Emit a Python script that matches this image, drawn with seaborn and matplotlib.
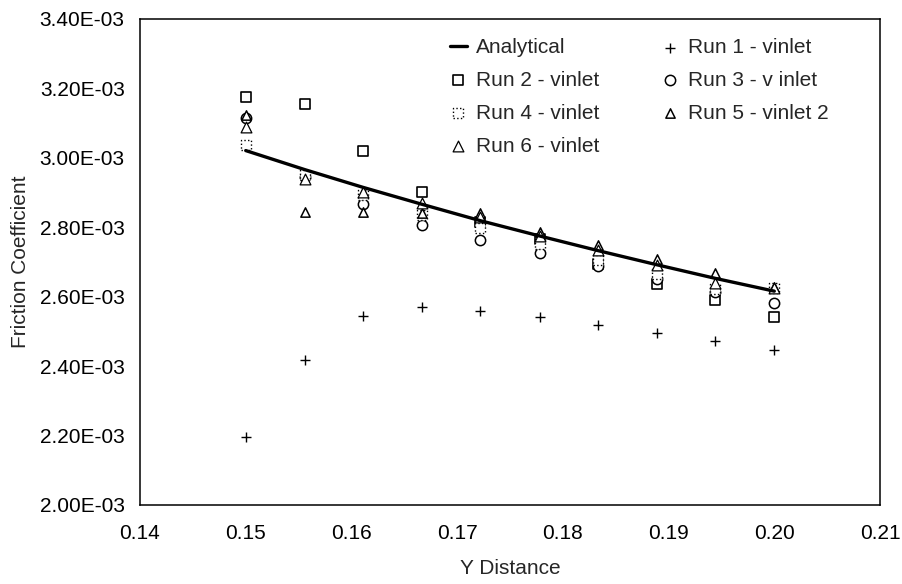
import matplotlib
matplotlib.use("Agg")
import matplotlib.pyplot as plt
import matplotlib.ticker as mticker
import numpy as np
import pandas as pd
import seaborn as sns

# Streamwise stations (Y distance)
y_dist = [0.15, 0.1556, 0.1611, 0.1667, 0.1722, 0.1778, 0.1833, 0.1889, 0.1944, 0.20]

# Friction coefficient values, in units of 1e-3
analytical = [3.021, 2.966, 2.915, 2.866, 2.819, 2.775, 2.733, 2.692, 2.653, 2.616]
run1 = [2.197, 2.418, 2.544, 2.571, 2.560, 2.541, 2.519, 2.495, 2.471, 2.447]
run2 = [3.174, 3.155, 3.020, 2.903, 2.815, 2.765, 2.695, 2.636, 2.591, 2.542]
run3 = [3.114, 2.945, 2.867, 2.807, 2.763, 2.725, 2.689, 2.650, 2.614, 2.581]
run4 = [3.037, 2.950, 2.893, 2.835, 2.797, 2.752, 2.705, 2.665, 2.622, 2.625]
run5 = [3.123, 2.845, 2.845, 2.840, 2.840, 2.787, 2.749, 2.708, 2.667, 2.629]
run6 = [3.090, 2.940, 2.903, 2.869, 2.830, 2.775, 2.735, 2.690, 2.640, 2.626]

x_ticks = [0.14, 0.15, 0.16, 0.17, 0.18, 0.19, 0.20, 0.21]
y_ticks = [2.00e-3, 2.20e-3, 2.40e-3, 2.60e-3, 2.80e-3, 3.00e-3, 3.20e-3, 3.40e-3]

labels = {
    "analytical": "Analytical",
    "run1": "Run 1 - vinlet",
    "run2": "Run 2 - vinlet",
    "run3": "Run 3 - v inlet",
    "run4": "Run 4 - vinlet",
    "run5": "Run 5 - vinlet 2",
    "run6": "Run 6 - vinlet",
}


def frame(values):
    return pd.DataFrame({"x": y_dist, "cf": np.array(values) * 1e-3})


sns.set_style("white")
plt.rcParams["font.family"] = ["Liberation Sans", "DejaVu Sans"]
plt.rcParams["font.size"] = 15

fig = plt.figure(figsize=(9.03, 5.84), dpi=100)
ax = fig.add_axes([140 / 903, 79 / 584, 740 / 903, 486 / 584])

sns.lineplot(data=frame(analytical), x="x", y="cf", ax=ax, color="black",
             linewidth=2.4, label=labels["analytical"])
sns.scatterplot(data=frame(run1), x="x", y="cf", ax=ax, marker="+", s=60,
                color="black", linewidth=1.0, label=labels["run1"])
sns.scatterplot(data=frame(run2), x="x", y="cf", ax=ax, marker="s", s=52,
                facecolor="white", edgecolor="black", linewidth=1.2,
                label=labels["run2"])
sns.scatterplot(data=frame(run3), x="x", y="cf", ax=ax, marker="o", s=55,
                facecolor="white", edgecolor="black", linewidth=1.1,
                label=labels["run3"])
sns.scatterplot(data=frame(run4), x="x", y="cf", ax=ax, marker="s", s=52,
                facecolor="white", edgecolor="black", linewidth=1.0,
                linestyle=":", label=labels["run4"])
sns.scatterplot(data=frame(run5), x="x", y="cf", ax=ax, marker="^", s=45,
                facecolor="white", edgecolor="black", linewidth=1.1,
                label=labels["run5"])
sns.scatterplot(data=frame(run6), x="x", y="cf", ax=ax, marker="^", s=60,
                facecolor="white", edgecolor="black", linewidth=0.9,
                label=labels["run6"])

ax.set_xlim(0.14, 0.21)
ax.set_ylim(2.00e-3, 3.40e-3)
ax.set_xticks(x_ticks)
ax.set_yticks(y_ticks)
ax.xaxis.set_major_formatter(mticker.FuncFormatter(lambda v, p: f"{v:.2f}"))
ax.yaxis.set_major_formatter(mticker.FuncFormatter(lambda v, p: f"{v:.2E}"))
ax.tick_params(axis="both", length=0, labelsize=15, colors="black")
ax.tick_params(axis="x", pad=14)
ax.tick_params(axis="y", pad=11)
ax.set_xlabel("Y Distance", fontsize=15, labelpad=11)
ax.set_ylabel("Friction Coefficient", fontsize=15, labelpad=7)
for sp in ax.spines.values():
    sp.set_color("black")
    sp.set_linewidth(1.1)
ax.grid(False)

# Two-column legend, filled column by column
handles, labs = ax.get_legend_handles_labels()
lookup = dict(zip(labs, handles))
order = ["analytical", "run2", "run4", "run6", "run1", "run3", "run5"]
ax.legend([lookup[labels[k]] for k in order], [labels[k] for k in order],
          ncol=2, frameon=False, loc="upper left",
          bbox_to_anchor=(450 / 903, 1 - 38 / 584), bbox_transform=fig.transFigure,
          borderpad=0, borderaxespad=0, handlelength=0.8, handletextpad=0.45,
          columnspacing=3.0, labelspacing=0.67, fontsize=15)

fig.savefig("out.png", dpi=100)
